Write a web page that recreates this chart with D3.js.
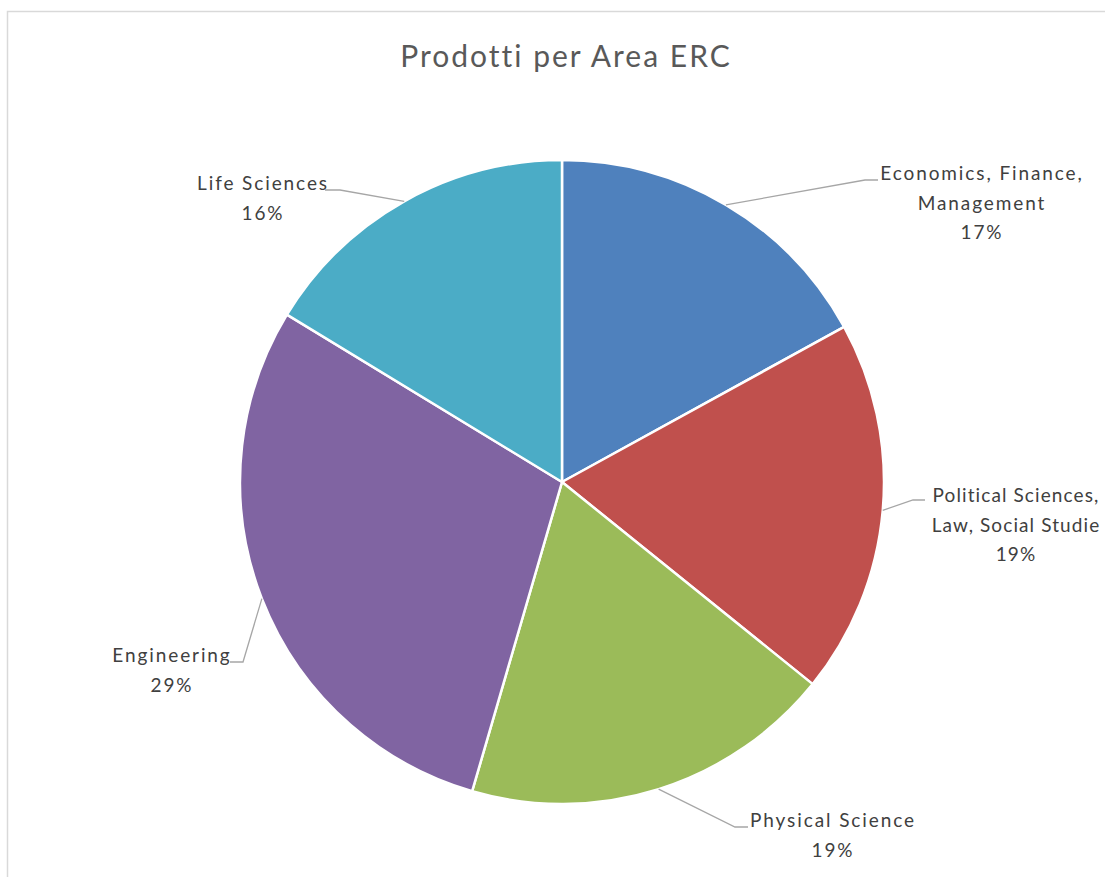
<!DOCTYPE html>
<html>
<head>
<meta charset="utf-8">
<script src="https://cdn.jsdelivr.net/npm/d3@7"></script>
<style>
  body { margin: 0; background: #fff; }
  svg text { font-family: Lato, "Open Sans", sans-serif; }
</style>
</head>
<body>
<svg id="chart"></svg>
<script>
// data (share of products per ERC area, clockwise from 12 o'clock)
var areas = ["Economics, Finance, Management", "Political Sciences, Law, Social Studie", "Physical Science", "Engineering", "Life Sciences"];
var shares = [17.0, 18.8, 18.7, 29.2, 16.3];
var colors = ["#4F81BD", "#C0504D", "#9BBB59", "#8064A2", "#4BACC6"];
// how each label is wrapped in the picture
var labelLines = [
  ["Economics, Finance,", "Management"],
  ["Political Sciences,", "Law, Social Studie"],
  ["Physical Science"],
  ["Engineering"],
  ["Life Sciences"]
];

var svgWidth = 1105, svgHeight = 877;
var cx = 562, cy = 482, radius = 322;

// label layout: elbow of the leader line, end of its short tail, text centre x, first baseline, spacing
var labelLayout = [
  { elbow: [865, 180], tail: 878, tx: 981, ty: 180, ls: 1.9 },
  { elbow: [913, 500], tail: 925, tx: 1015, ty: 502, ls: 1.1 },
  { elbow: [735, 827], tail: 748, tx: 832, ty: 827, ls: 1.9 },
  { elbow: [243, 662], tail: 230, tx: 171, ty: 662, ls: 1.9 },
  { elbow: [340, 190], tail: 325, tx: 262, ty: 190, ls: 1.9 }
];

var svg = d3.select("#chart")
  .attr("width", svgWidth)
  .attr("height", svgHeight);

// chart area border
svg.append("rect")
  .attr("x", 7.5).attr("y", 11.5)
  .attr("width", 1200).attr("height", 1000)
  .attr("fill", "none")
  .attr("stroke", "#D9D9D9")
  .attr("stroke-width", 1.5);

// title
svg.append("text")
  .attr("x", 566).attr("y", 67)
  .attr("text-anchor", "middle")
  .attr("fill", "#595959")
  .style("font-size", "30px")
  .style("letter-spacing", "2px")
  .text("Prodotti per Area ERC");

var data = areas.map(function (a, i) {
  return { area: a, value: shares[i], color: colors[i], lines: labelLines[i], layout: labelLayout[i] };
});

var pie = d3.pie()
  .sort(null)
  .value(function (d) { return d.value; });

var arc = d3.arc().innerRadius(0).outerRadius(radius);

var total = d3.sum(shares);
var arcs = pie(data);

var g = svg.append("g")
  .attr("transform", "translate(" + cx + "," + cy + ")");

g.selectAll(".slice")
  .data(arcs)
  .enter()
  .append("path")
  .attr("class", "slice")
  .attr("d", arc)
  .attr("fill", function (d) { return d.data.color; })
  .attr("stroke", "#fff")
  .attr("stroke-width", 2.5)
  .attr("stroke-linejoin", "round");

// leader lines, from the slice edge at its mid angle
svg.selectAll(".leader")
  .data(arcs)
  .enter()
  .append("polyline")
  .attr("class", "leader")
  .attr("fill", "none")
  .attr("stroke", "#A6A6A6")
  .attr("stroke-width", 1.3)
  .attr("points", function (d) {
    var mid = (d.startAngle + d.endAngle) / 2;
    var px = cx + radius * Math.sin(mid);
    var py = cy - radius * Math.cos(mid);
    var L = d.data.layout;
    return [[px, py], L.elbow, [L.tail, L.elbow[1]]].map(function (p) { return p.join(","); }).join(" ");
  });

// labels: name lines plus percentage
var labels = svg.selectAll(".label")
  .data(arcs)
  .enter()
  .append("text")
  .attr("class", "label")
  .attr("text-anchor", "middle")
  .attr("fill", "#404040")
  .style("font-size", "19px")
  .style("letter-spacing", function (d) { return d.data.layout.ls + "px"; });

labels.each(function (d) {
  var t = d3.select(this);
  var L = d.data.layout;
  var lines = d.data.lines.concat([Math.round(d.data.value / total * 100) + "%"]);
  lines.forEach(function (line, i) {
    t.append("tspan")
      .attr("x", L.tx + 1)
      .attr("y", L.ty + i * 29.5)
      .text(line);
  });
});
</script>
</body>
</html>
